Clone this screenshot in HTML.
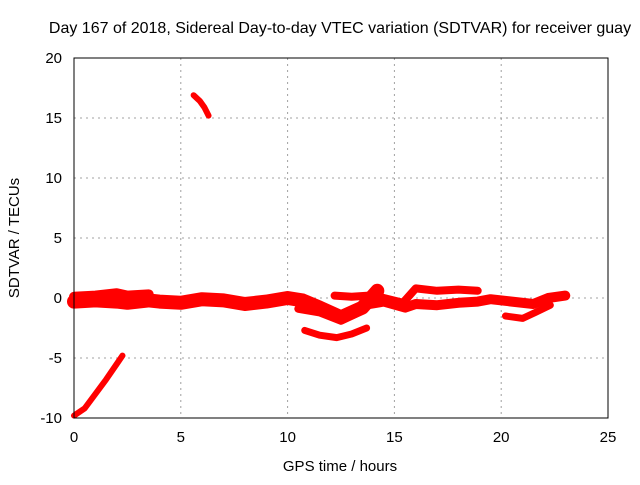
<!DOCTYPE html>
<html><head><meta charset="utf-8"><style>
body{margin:0;background:#fff;font-family:"Liberation Sans",sans-serif;}
svg text{font-family:"Liberation Sans",sans-serif;font-size:15px;fill:#000;}
</style></head><body>
<svg width="640" height="480" id="c">
<text x="340" y="33" text-anchor="middle" style="font-size:16px">Day 167 of 2018, Sidereal Day-to-day VTEC variation (SDTVAR) for receiver guay</text>
<text x="340" y="471" text-anchor="middle">GPS time / hours</text>
<text transform="translate(19,238) rotate(-90)" text-anchor="middle">SDTVAR / TECUs</text>
<g id="grid"></g><g id="ticks"></g><g id="data"></g>
<rect x="74" y="58" width="534" height="360" fill="none" stroke="#000" stroke-width="1"/>
</svg>
<script>
const xTicks=[0,5,10,15,20,25];
const yTicks=[-10,-5,0,5,10,15,20];
const segA_h=[0,0.5,1,1.5,2,2.27];const segA_v=[-9.8,-9.2,-8.0,-6.8,-5.5,-4.8];
const segB_h=[5.6,5.9,6.1,6.3];const segB_v=[16.9,16.4,15.9,15.2];
const segC_h=[0,1,2,2.5,3.5,4,5,6,7,8,9,10,10.7,11.5,12.5,13.5,14.2];
const segC_v=[-0.3,-0.2,-0.3,-0.4,-0.2,-0.3,-0.4,-0.1,-0.2,-0.5,-0.3,0,-0.2,-0.8,-1.6,-0.8,0.6];
const segD_h=[0,1,2,2.5,3.5];const segD_v=[0.1,0.2,0.4,0.2,0.3];
const segE_h=[12.2,13,13.8,14.5,15.4,16,17,18,18.9];const segE_v=[0.2,0.1,0.2,0,-0.4,0.8,0.6,0.7,0.6];
const segF_h=[13.5,14.5,15.5,16,17,18,18.9,19.5,20.5,21.5,22.2,23];const segF_v=[-0.6,-0.3,-0.8,-0.5,-0.6,-0.4,-0.3,-0.1,-0.3,-0.5,0,0.2];
const segG_h=[20.2,21,21.6,22.3];const segG_v=[-1.5,-1.7,-1.2,-0.6];
const segH_h=[10.8,11.5,12.3,13,13.7];const segH_v=[-2.7,-3.1,-3.3,-3.0,-2.5];
const segI_h=[10.5,11.5,12.5,13.2];const segI_v=[-0.9,-1.2,-1.9,-1.3];
const X=h=>74+h*534/25, Y=v=>298-v*12;
const ns="http://www.w3.org/2000/svg";
const g=document.getElementById('grid'),t=document.getElementById('ticks'),d=document.getElementById('data');
function el(n,a,p){const e=document.createElementNS(ns,n);for(const k in a)e.setAttribute(k,a[k]);p.appendChild(e);return e;}
xTicks.forEach(v=>{const x=X(v);
 if(v>0&&v<25){const l=el('line',{x1:x,x2:x,y1:58,y2:418,stroke:'#a0a0a0','stroke-dasharray':'2,4'},g);
 
 }
 const tx=el('text',{x:x,y:442,'text-anchor':'middle'},t);tx.textContent=v;
 
 });
yTicks.forEach(v=>{const y=Y(v);
 if(v>-10&&v<20){const l=el('line',{x1:74,x2:608,y1:y,y2:y,stroke:'#a0a0a0','stroke-dasharray':'2,4'},g);
 
 }
 const tx=el('text',{x:62,y:y+5,'text-anchor':'end'},t);tx.textContent=v;
 
 });
function seg(hs,vs,w,name){
 const pts=hs.map((h,i)=>X(h)+','+Y(vs[i])).join(' ');
 const p=el('polyline',{points:pts,fill:'none',stroke:'#ff0000','stroke-width':w,'stroke-linejoin':'round','stroke-linecap':'round'},d);
 
 }
seg(segA_h,segA_v,6,'series-segment-a');
seg(segB_h,segB_v,6,'series-segment-b');
seg(segC_h,segC_v,14,'series-segment-c');
seg(segD_h,segD_v,10,'series-segment-d');
seg(segE_h,segE_v,8,'series-segment-e');
seg(segF_h,segF_v,10,'series-segment-f');
seg(segG_h,segG_v,7,'series-segment-g');
seg(segH_h,segH_v,7,'series-segment-h');
seg(segI_h,segI_v,8,'series-segment-i');
</script>
</body></html>
